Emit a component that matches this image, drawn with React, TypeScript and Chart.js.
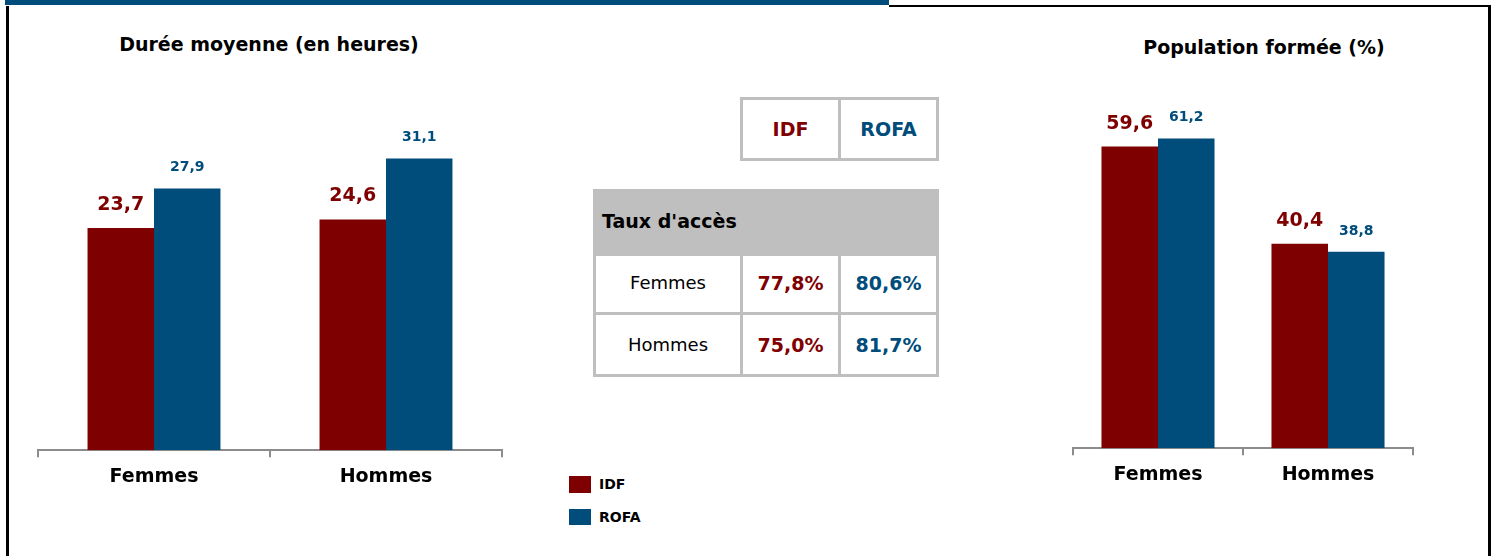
import React, { useEffect, useRef } from "react";
import { Chart, registerables } from "chart.js";

Chart.register(...registerables);

// ---------- data ----------
const categories = ["Femmes", "Hommes"];
const seriesNames = ["IDF", "ROFA"];
const dureeIDF = [23.7, 24.6];
const dureeROFA = [27.9, 31.1];
const populationIDF = [59.6, 40.4];
const populationROFA = [61.2, 38.8];
const tauxRows = ["Femmes", "Hommes"];
const tauxIDF = ["77,8%", "75,0%"];
const tauxROFA = ["80,6%", "81,7%"];
const titleDuree = "Durée moyenne (en heures)";
const titlePopulation = "Population formée (%)";
const tauxTitle = "Taux d'accès";

// ---------- styles ----------
const RED = "#7f0000";
const BLUE = "#004c7b";
const AXIS = "#8c8c8c";
const TABLE_GRAY = "#bfbfbf";
const FONT = "'DejaVu Sans', Verdana, sans-serif";

const fmt = (v: number) => v.toFixed(1).replace(".", ",");

const valueLabels = {
  id: "valueLabels",
  afterDatasetsDraw(chart: any) {
    const ctx = chart.ctx;
    chart.data.datasets.forEach((ds: any, di: number) => {
      const meta = chart.getDatasetMeta(di);
      const big = di === 0;
      ctx.save();
      ctx.font = `bold ${big ? 19 : 14}px ${FONT}`;
      ctx.fillStyle = big ? RED : BLUE;
      ctx.textAlign = "center";
      ctx.textBaseline = "middle";
      meta.data.forEach((bar: any, i: number) => {
        ctx.fillText(fmt(ds.data[i]), bar.x, bar.y - (big ? 23 : 21));
      });
      ctx.restore();
    });
  },
};

type BarProps = {
  idf: number[];
  rofa: number[];
  max: number;
  catPct: number;
  left: number;
  top: number;
  width: number;
  height: number;
};

function BarChart({ idf, rofa, max, catPct, left, top, width, height }: BarProps) {
  const ref = useRef<HTMLCanvasElement>(null);
  useEffect(() => {
    if (!ref.current) return;
    const chart = new Chart(ref.current, {
      type: "bar",
      data: {
        labels: categories,
        datasets: [
          {
            label: seriesNames[0],
            data: idf,
            backgroundColor: RED,
            barPercentage: 1,
            categoryPercentage: catPct,
          },
          {
            label: seriesNames[1],
            data: rofa,
            backgroundColor: BLUE,
            barPercentage: 1,
            categoryPercentage: catPct,
          },
        ],
      },
      options: {
        responsive: false,
        animation: false,
        layout: { padding: { left: 2, right: 2, top: 0, bottom: 0 } },
        plugins: {
          legend: { display: false },
          tooltip: { enabled: false },
        },
        scales: {
          x: {
            grid: {
              display: true,
              drawOnChartArea: false,
              drawTicks: true,
              tickLength: 7,
              offset: true,
              color: AXIS,
              lineWidth: 2,
            },
            border: { display: true, color: AXIS, width: 2 },
            ticks: {
              color: "#000",
              padding: 8,
              font: { family: FONT, size: 19, weight: "bold" },
            },
          },
          y: { display: false, min: 0, max },
        },
      },
      plugins: [valueLabels],
    } as any);
    return () => chart.destroy();
  }, []);
  return (
    <canvas
      ref={ref}
      width={width}
      height={height}
      style={{ position: "absolute", left, top, width, height, display: "block" }}
    />
  );
}

const abs = (s: React.CSSProperties): React.CSSProperties => ({ position: "absolute", ...s });

function Cell({ left, top, width, height, children, style }: any) {
  return (
    <div
      style={abs({
        left,
        top,
        width,
        height,
        display: "flex",
        alignItems: "center",
        justifyContent: "center",
        fontFamily: FONT,
        lineHeight: "22px",
        whiteSpace: "nowrap",
        ...style,
      })}
    >
      {children}
    </div>
  );
}

export default function App() {
  useEffect(() => {
    document.body.style.margin = "0";
  }, []);
  const bold19 = { fontWeight: "bold", fontSize: 19 };
  return (
    <div
      style={abs({
        left: 0,
        top: 0,
        width: 1495,
        height: 556,
        background: "#fff",
        overflow: "hidden",
      })}
    >
      {/* frame */}
      <div style={abs({ left: 5, top: 0, width: 884, height: 5, background: BLUE })} />
      <div style={abs({ left: 889, top: 5, width: 602, height: 2, background: "#000" })} />
      <div style={abs({ left: 6, top: 6, width: 3, height: 550, background: "#000" })} />
      <div style={abs({ left: 1488, top: 5, width: 3, height: 551, background: "#000" })} />

      {/* titles */}
      <Cell left={69} top={33} width={400} height={22} style={{ ...bold19, color: "#000" }}>
        {titleDuree}
      </Cell>
      <Cell left={1064} top={36} width={400} height={22} style={{ ...bold19, color: "#000" }}>
        {titlePopulation}
      </Cell>

      {/* charts */}
      <BarChart idf={dureeIDF} rofa={dureeROFA} max={40} catPct={0.573} left={36} top={75} width={468} height={421} />
      <BarChart idf={populationIDF} rofa={populationROFA} max={70} catPct={0.665} left={1071} top={94} width={344} height={400} />

      {/* header table */}
      <div style={abs({ left: 740, top: 97, width: 199, height: 64, border: `3px solid ${TABLE_GRAY}`, boxSizing: "border-box" })} />
      <div style={abs({ left: 838, top: 97, width: 3, height: 64, background: TABLE_GRAY })} />
      <Cell left={743} top={100} width={95} height={58} style={{ ...bold19, color: RED }}>
        {seriesNames[0]}
      </Cell>
      <Cell left={841} top={100} width={95} height={58} style={{ ...bold19, color: BLUE }}>
        {seriesNames[1]}
      </Cell>

      {/* taux table */}
      <div style={abs({ left: 593, top: 189, width: 346, height: 65, background: TABLE_GRAY })} />
      <Cell left={602} top={189} width={300} height={64} style={{ ...bold19, color: "#000", justifyContent: "flex-start" }}>
        {tauxTitle}
      </Cell>
      <div style={abs({ left: 593, top: 253, width: 346, height: 124, border: `3px solid ${TABLE_GRAY}`, boxSizing: "border-box" })} />
      <div style={abs({ left: 740, top: 253, width: 3, height: 124, background: TABLE_GRAY })} />
      <div style={abs({ left: 838, top: 253, width: 3, height: 124, background: TABLE_GRAY })} />
      <div style={abs({ left: 593, top: 312, width: 346, height: 3, background: TABLE_GRAY })} />
      {tauxRows.map((r, i) => {
        const top = i === 0 ? 253 : 315;
        return (
          <React.Fragment key={r}>
            <Cell left={596} top={top} width={144} height={59} style={{ fontSize: 18, color: "#000" }}>
              {r}
            </Cell>
            <Cell left={743} top={top} width={95} height={59} style={{ ...bold19, color: RED }}>
              {tauxIDF[i]}
            </Cell>
            <Cell left={841} top={top} width={95} height={59} style={{ ...bold19, color: BLUE }}>
              {tauxROFA[i]}
            </Cell>
          </React.Fragment>
        );
      })}

      {/* legend */}
      <div style={abs({ left: 569, top: 476, width: 22, height: 17, background: RED })} />
      <div style={abs({ left: 569, top: 509, width: 22, height: 16, background: BLUE })} />
      <Cell left={599} top={473} width={60} height={22} style={{ fontWeight: "bold", fontSize: 14, color: "#000", justifyContent: "flex-start" }}>
        {seriesNames[0]}
      </Cell>
      <Cell left={599} top={506} width={60} height={22} style={{ fontWeight: "bold", fontSize: 14, color: "#000", justifyContent: "flex-start" }}>
        {seriesNames[1]}
      </Cell>
    </div>
  );
}
